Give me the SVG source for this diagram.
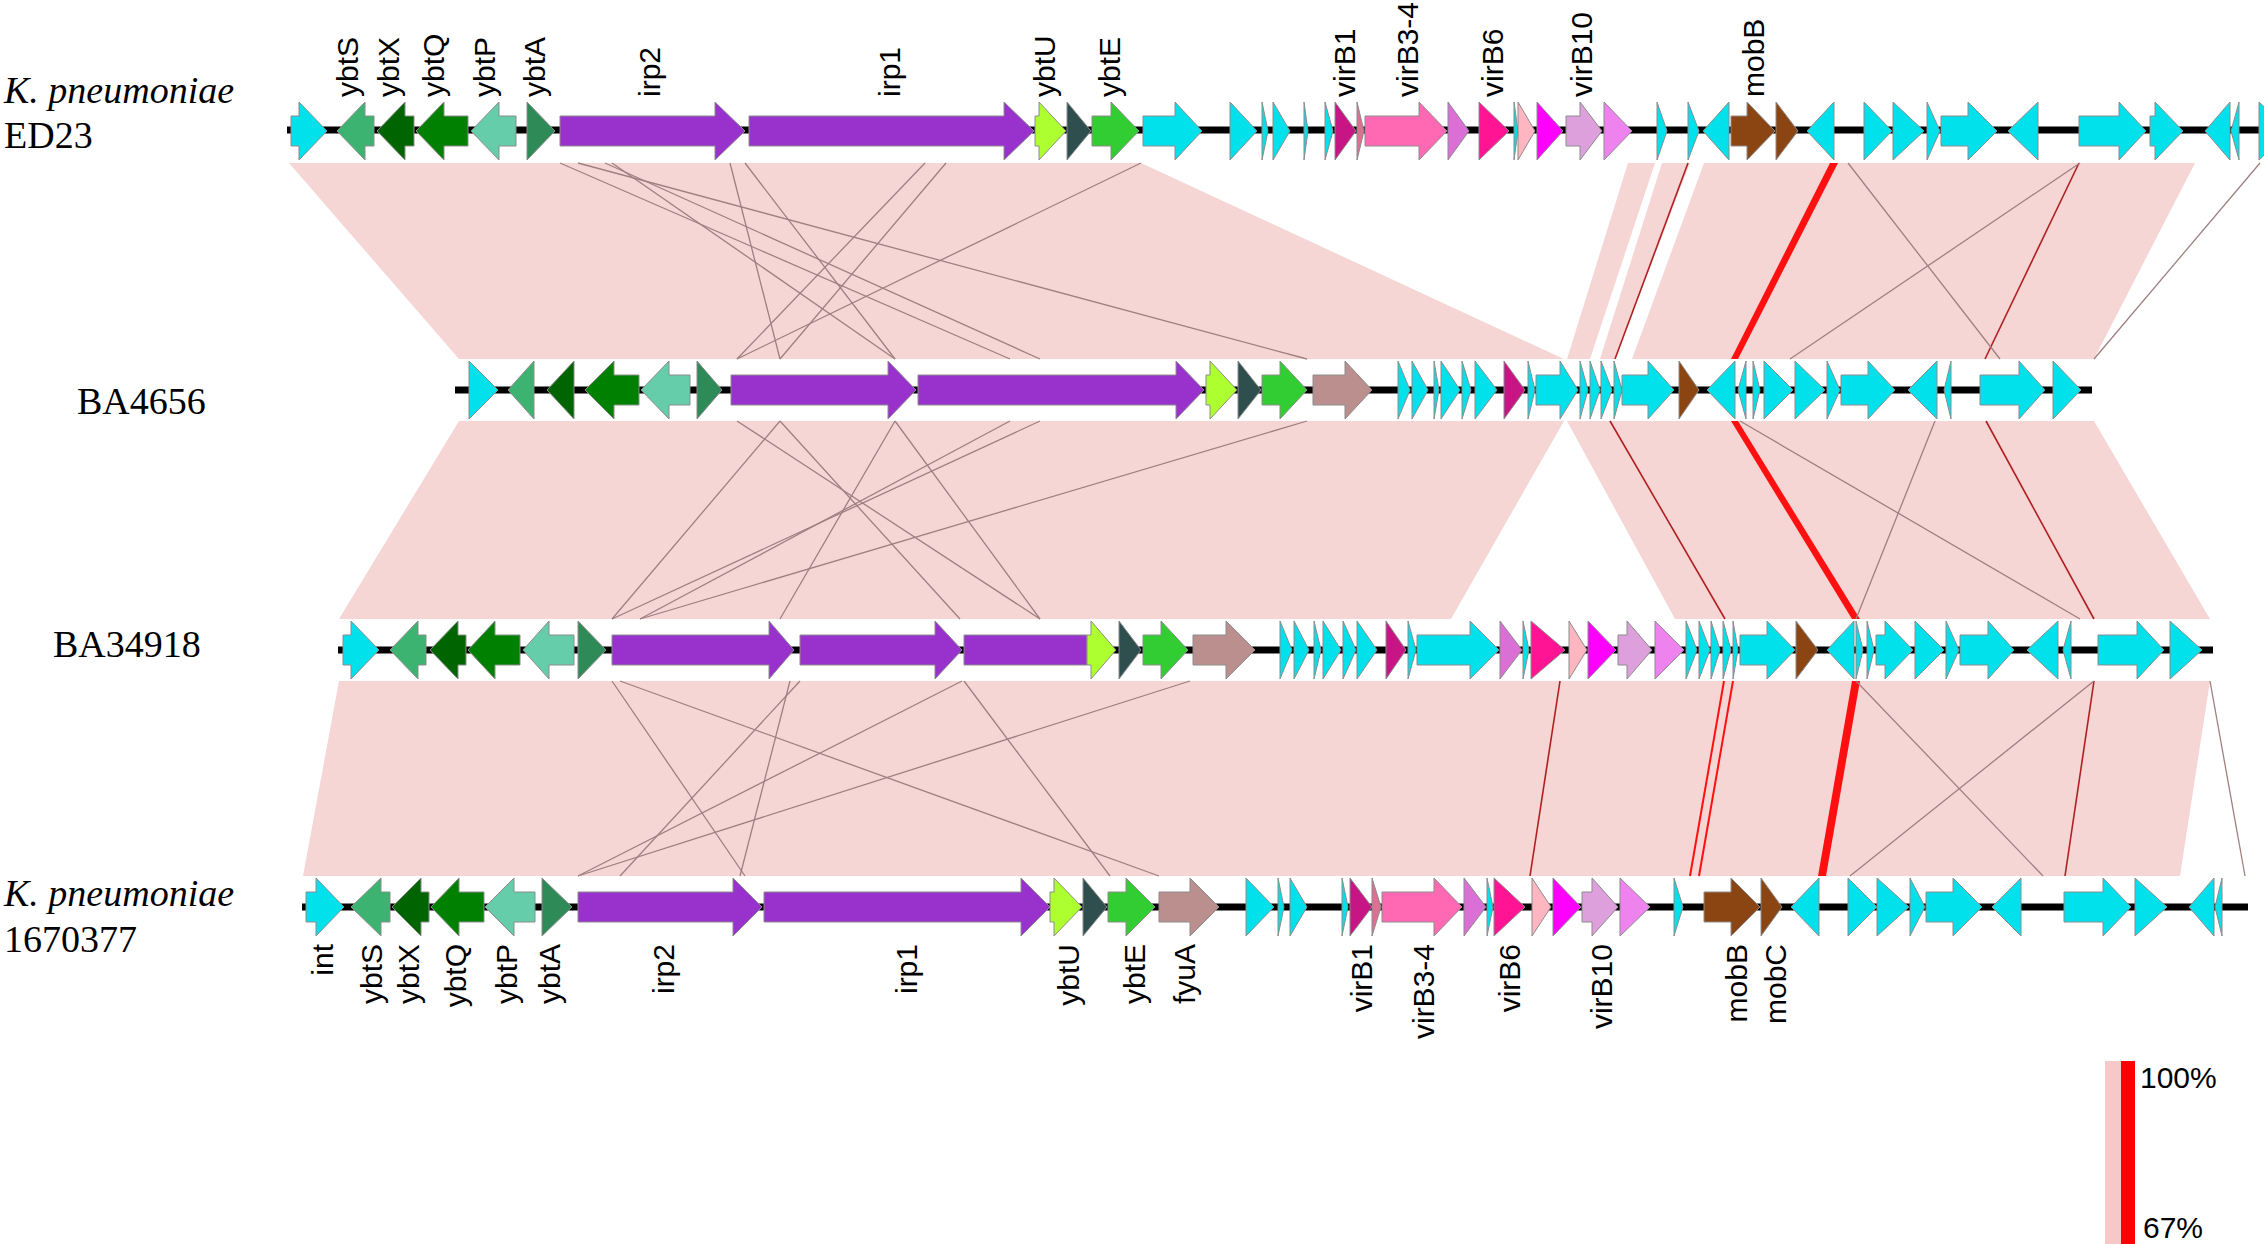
<svg xmlns="http://www.w3.org/2000/svg" width="2264" height="1244" viewBox="0 0 2264 1244">
<style>
.bb{stroke:#000;stroke-width:7}
polygon.g{stroke:#8c8c8c;stroke-width:1}
.c{fill:#00E1EC}.s{fill:#3CB371}.x{fill:#006400}.q{fill:#008000}.p{fill:#66CDAA}.a{fill:#2E8B57}
.i{fill:#9932CC}.u{fill:#ADFF2F}.d{fill:#2F4F4F}.e{fill:#32CD32}.f{fill:#BC8F8F}
.v1{fill:#C71585}.pv{fill:#DB7093}.v3{fill:#FF69B4}.or{fill:#DA70D6}.v6{fill:#FF1493}.lp{fill:#FFB6C1}
.mg{fill:#FF00FF}.pl{fill:#DDA0DD}.vi{fill:#EE82EE}.br{fill:#8B4513}
.lbl{font-family:"Liberation Sans",Arial,sans-serif;font-size:30px;fill:#000}
.sp{font-family:"Liberation Serif","Times New Roman",serif;font-size:38px;fill:#000}
.hit{fill:#F6D5D5}
.ln{stroke:#9e8080;stroke-width:1.3;fill:none}
.dr{stroke:#b02020;stroke-width:1.6;fill:none}
.rl{stroke:#FF1010;stroke-width:2;fill:none}
.rd{fill:#FF1010}
</style>

<g id="connectors">
<g id="cmp1">
<polygon class="hit" points="289,163 1141,163 1564,359 459,359"/>
<polygon class="hit" points="1628,163 1655,163 1590,359 1567,359"/>
<polygon class="hit" points="1662,163 1690,163 1615,359 1600,359"/>
<polygon class="hit" points="1704,163 2195,163 2094,359 1632,359"/>
<polygon class="rd" points="1830,163 1838,163 1738,359 1731,359"/>
<line class="dr" x1="1688" y1="163" x2="1615" y2="359"/>
<line class="dr" x1="2079" y1="163" x2="1985" y2="359"/>
<line class="ln" x1="1848" y1="163" x2="2000" y2="359"/>
<line class="ln" x1="2080" y1="163" x2="1790" y2="359"/>
<line class="ln" x1="2260" y1="163" x2="2094" y2="359"/>
<line class="ln" x1="560" y1="163" x2="1010" y2="359"/>
<line class="ln" x1="578" y1="163" x2="1307" y2="359"/>
<line class="ln" x1="605" y1="163" x2="1040" y2="359"/>
<line class="ln" x1="612" y1="163" x2="895" y2="359"/>
<line class="ln" x1="730" y1="163" x2="780" y2="359"/>
<line class="ln" x1="745" y1="163" x2="895" y2="359"/>
<line class="ln" x1="925" y1="163" x2="737" y2="359"/>
<line class="ln" x1="946" y1="163" x2="780" y2="359"/>
<line class="ln" x1="1141" y1="163" x2="737" y2="359"/>
</g>
<g id="cmp2">
<polygon class="hit" points="459,421 1564,421 1451,619 339,619"/>
<polygon class="hit" points="1567,421 2094,421 2210,619 1675,619"/>
<polygon class="rd" points="1731,421 1738,421 1860,619 1852,619"/>
<line class="dr" x1="1610" y1="421" x2="1725" y2="619"/>
<line class="dr" x1="1986" y1="421" x2="2094" y2="619"/>
<line class="ln" x1="1740" y1="421" x2="2080" y2="619"/>
<line class="ln" x1="1935" y1="421" x2="1856" y2="619"/>
<line class="ln" x1="780" y1="421" x2="612" y2="619"/>
<line class="ln" x1="780" y1="421" x2="960" y2="619"/>
<line class="ln" x1="895" y1="421" x2="780" y2="619"/>
<line class="ln" x1="895" y1="421" x2="1040" y2="619"/>
<line class="ln" x1="737" y1="421" x2="1040" y2="619"/>
<line class="ln" x1="1010" y1="421" x2="640" y2="619"/>
<line class="ln" x1="1040" y1="421" x2="612" y2="619"/>
<line class="ln" x1="1307" y1="421" x2="640" y2="619"/>
</g>
<g id="cmp3">
<polygon class="hit" points="339,681 2210,681 2180,876 303,876"/>
<line class="rl" x1="1724" y1="681" x2="1690" y2="876"/>
<line class="rl" x1="1733" y1="681" x2="1699" y2="876"/>
<polygon class="rd" points="1852,681 1860,681 1826,876 1818,876"/>
<line class="dr" x1="1560" y1="681" x2="1530" y2="876"/>
<line class="dr" x1="2094" y1="681" x2="2065" y2="876"/>
<line class="ln" x1="1856" y1="681" x2="2043" y2="876"/>
<line class="ln" x1="2094" y1="681" x2="1850" y2="876"/>
<line class="ln" x1="2210" y1="681" x2="2245" y2="876"/>
<line class="ln" x1="612" y1="681" x2="745" y2="876"/>
<line class="ln" x1="620" y1="681" x2="1159" y2="876"/>
<line class="ln" x1="800" y1="681" x2="620" y2="876"/>
<line class="ln" x1="962" y1="681" x2="578" y2="876"/>
<line class="ln" x1="790" y1="681" x2="740" y2="876"/>
<line class="ln" x1="1190" y1="681" x2="578" y2="876"/>
<line class="ln" x1="964" y1="681" x2="1110" y2="876"/>
</g>
</g>

<g id="row-ED23">
<text class="sp" x="4" y="103" font-style="italic">K. pneumoniae</text>
<text class="sp" x="4" y="148">ED23</text>
<line class="bb" x1="287" y1="130" x2="2264" y2="130"/>
<polygon class="g c" points="291,116 299,116 299,102 327,131 299,160 299,146 291,146"/>
<polygon class="g s" points="337,131 365,102 365,116 374,116 374,146 365,146 365,160"/>
<polygon class="g x" points="377,131 405,102 405,116 414,116 414,146 405,146 405,160"/>
<polygon class="g q" points="416,131 444,102 444,116 468,116 468,146 444,146 444,160"/>
<polygon class="g p" points="471,131 499,102 499,116 516,116 516,146 499,146 499,160"/>
<polygon class="g a" points="527,102 555,131 527,160"/>
<polygon class="g i" points="560,116 715,116 715,102 745,131 715,160 715,146 560,146"/>
<polygon class="g i" points="749,116 1004,116 1004,102 1034,131 1004,160 1004,146 749,146"/>
<polygon class="g u" points="1035,116 1039,116 1039,102 1066,131 1039,160 1039,146 1035,146"/>
<polygon class="g d" points="1067,102 1091,131 1067,160"/>
<polygon class="g e" points="1092,116 1111,116 1111,102 1139,131 1111,160 1111,146 1092,146"/>
<polygon class="g c" points="1143,116 1175,116 1175,102 1202,131 1175,160 1175,146 1143,146"/>
<polygon class="g c" points="1230,102 1257,131 1230,160"/>
<polygon class="g c" points="1262,102 1268,131 1262,160"/>
<polygon class="g c" points="1273,102 1290,131 1273,160"/>
<polygon class="g c" points="1304,102 1308,131 1304,160"/>
<polygon class="g c" points="1325,102 1333,131 1325,160"/>
<polygon class="g v1" points="1335,102 1356,131 1335,160"/>
<polygon class="g pv" points="1357,102 1364,131 1357,160"/>
<polygon class="g v3" points="1365,116 1419,116 1419,102 1447,131 1419,160 1419,146 1365,146"/>
<polygon class="g or" points="1448,102 1469,131 1448,160"/>
<polygon class="g v6" points="1479,102 1509,131 1479,160"/>
<polygon class="g c" points="1514,102 1518,131 1514,160"/>
<polygon class="g lp" points="1518,102 1535,131 1518,160"/>
<polygon class="g mg" points="1537,102 1563,131 1537,160"/>
<polygon class="g pl" points="1566,116 1580,116 1580,102 1602,131 1580,160 1580,146 1566,146"/>
<polygon class="g vi" points="1604,102 1632,131 1604,160"/>
<polygon class="g c" points="1657,102 1667,131 1657,160"/>
<polygon class="g c" points="1688,102 1699,131 1688,160"/>
<polygon class="g c" points="1729,102 1703,131 1729,160"/>
<polygon class="g br" points="1731,116 1747,116 1747,102 1775,131 1747,160 1747,146 1731,146"/>
<polygon class="g br" points="1776,102 1798,131 1776,160"/>
<polygon class="g c" points="1834,102 1807,131 1834,160"/>
<polygon class="g c" points="1864,102 1892,131 1864,160"/>
<polygon class="g c" points="1893,102 1924,131 1893,160"/>
<polygon class="g c" points="1927,102 1940,131 1927,160"/>
<polygon class="g c" points="1941,116 1968,116 1968,102 1997,131 1968,160 1968,146 1941,146"/>
<polygon class="g c" points="2038,102 2008,131 2038,160"/>
<polygon class="g c" points="2079,116 2119,116 2119,102 2146,131 2119,160 2119,146 2079,146"/>
<polygon class="g c" points="2150,116 2155,116 2155,102 2183,131 2155,160 2155,146 2150,146"/>
<polygon class="g c" points="2230,102 2205,131 2230,160"/>
<polygon class="g c" points="2239,102 2231,131 2239,160"/>
<polygon class="g c" points="2259,102 2290,131 2259,160"/>
<g class="lbl">
<text transform="translate(358,97) rotate(-90)">ybtS</text>
<text transform="translate(399,97) rotate(-90)">ybtX</text>
<text transform="translate(444,97) rotate(-90)">ybtQ</text>
<text transform="translate(495,97) rotate(-90)">ybtP</text>
<text transform="translate(545,97) rotate(-90)">ybtA</text>
<text transform="translate(660,97) rotate(-90)">irp2</text>
<text transform="translate(900,97) rotate(-90)">irp1</text>
<text transform="translate(1055,97) rotate(-90)">ybtU</text>
<text transform="translate(1120,97) rotate(-90)">ybtE</text>
<text transform="translate(1355,97) rotate(-90)">virB1</text>
<text transform="translate(1418,97) rotate(-90)">virB3-4</text>
<text transform="translate(1503,97) rotate(-90)">virB6</text>
<text transform="translate(1592,97) rotate(-90)">virB10</text>
<text transform="translate(1764,97) rotate(-90)">mobB</text>
</g>
</g>

<g id="row-BA4656">
<text class="sp" x="77" y="414">BA4656</text>
<line class="bb" x1="455" y1="390" x2="2092" y2="390"/>
<polygon class="g c" points="469,361 498,390 469,419"/>
<polygon class="g s" points="534,361 508,390 534,419"/>
<polygon class="g x" points="574,361 547,390 574,419"/>
<polygon class="g q" points="585,390 614,361 614,375 639,375 639,405 614,405 614,419"/>
<polygon class="g p" points="641,390 669,361 669,375 690,375 690,405 669,405 669,419"/>
<polygon class="g a" points="697,361 722,390 697,419"/>
<polygon class="g i" points="731,375 888,375 888,361 916,390 888,419 888,405 731,405"/>
<polygon class="g i" points="918,375 1176,375 1176,361 1204,390 1176,419 1176,405 918,405"/>
<polygon class="g u" points="1206,375 1210,375 1210,361 1237,390 1210,419 1210,405 1206,405"/>
<polygon class="g d" points="1238,361 1261,390 1238,419"/>
<polygon class="g e" points="1262,375 1280,375 1280,361 1307,390 1280,419 1280,405 1262,405"/>
<polygon class="g f" points="1313,375 1345,375 1345,361 1372,390 1345,419 1345,405 1313,405"/>
<polygon class="g c" points="1398,361 1410,390 1398,419"/>
<polygon class="g c" points="1412,361 1428,390 1412,419"/>
<polygon class="g c" points="1434,361 1439,390 1434,419"/>
<polygon class="g c" points="1441,361 1460,390 1441,419"/>
<polygon class="g c" points="1462,361 1471,390 1462,419"/>
<polygon class="g c" points="1475,361 1497,390 1475,419"/>
<polygon class="g v1" points="1504,361 1525,390 1504,419"/>
<polygon class="g c" points="1528,361 1535,390 1528,419"/>
<polygon class="g c" points="1536,375 1560,375 1560,361 1578,390 1560,419 1560,405 1536,405"/>
<polygon class="g c" points="1580,361 1588,390 1580,419"/>
<polygon class="g c" points="1590,361 1600,390 1590,419"/>
<polygon class="g c" points="1601,361 1612,390 1601,419"/>
<polygon class="g c" points="1614,361 1622,390 1614,419"/>
<polygon class="g c" points="1622,375 1648,375 1648,361 1674,390 1648,419 1648,405 1622,405"/>
<polygon class="g br" points="1679,361 1699,390 1679,419"/>
<polygon class="g c" points="1735,361 1707,390 1735,419"/>
<polygon class="g c" points="1746,361 1738,390 1746,419"/>
<polygon class="g c" points="1753,361 1760,390 1753,419"/>
<polygon class="g c" points="1764,361 1793,390 1764,419"/>
<polygon class="g c" points="1795,361 1825,390 1795,419"/>
<polygon class="g c" points="1827,361 1840,390 1827,419"/>
<polygon class="g c" points="1841,375 1868,375 1868,361 1895,390 1868,419 1868,405 1841,405"/>
<polygon class="g c" points="1937,361 1908,390 1937,419"/>
<polygon class="g c" points="1951,361 1944,390 1951,419"/>
<polygon class="g c" points="1980,375 2019,375 2019,361 2045,390 2019,419 2019,405 1980,405"/>
<polygon class="g c" points="2053,361 2081,390 2053,419"/>
</g>

<g id="row-BA34918">
<text class="sp" x="53" y="657">BA34918</text>
<line class="bb" x1="338" y1="650" x2="2213" y2="650"/>
<polygon class="g c" points="343,635 351,635 351,621 379,650 351,679 351,665 343,665"/>
<polygon class="g s" points="390,650 418,621 418,635 426,635 426,665 418,665 418,679"/>
<polygon class="g x" points="430,650 458,621 458,635 466,635 466,665 458,665 458,679"/>
<polygon class="g q" points="468,650 495,621 495,635 520,635 520,665 495,665 495,679"/>
<polygon class="g p" points="523,650 549,621 549,635 574,635 574,665 549,665 549,679"/>
<polygon class="g a" points="578,621 606,650 578,679"/>
<polygon class="g i" points="612,635 769,635 769,621 794,650 769,679 769,665 612,665"/>
<polygon class="g i" points="800,635 935,635 935,621 962,650 935,679 935,665 800,665"/>
<polygon class="g i" points="964,635 1087,635 1087,665 964,665"/>
<polygon class="g u" points="1087,635 1091,635 1091,621 1116,650 1091,679 1091,665 1087,665"/>
<polygon class="g d" points="1119,621 1141,650 1119,679"/>
<polygon class="g e" points="1143,635 1161,635 1161,621 1188,650 1161,679 1161,665 1143,665"/>
<polygon class="g f" points="1193,635 1226,635 1226,621 1255,650 1226,679 1226,665 1193,665"/>
<polygon class="g c" points="1280,621 1292,650 1280,679"/>
<polygon class="g c" points="1294,621 1309,650 1294,679"/>
<polygon class="g c" points="1314,621 1321,650 1314,679"/>
<polygon class="g c" points="1323,621 1341,650 1323,679"/>
<polygon class="g c" points="1343,621 1356,650 1343,679"/>
<polygon class="g c" points="1357,621 1377,650 1357,679"/>
<polygon class="g v1" points="1386,621 1406,650 1386,679"/>
<polygon class="g c" points="1408,621 1416,650 1408,679"/>
<polygon class="g c" points="1417,635 1470,635 1470,621 1499,650 1470,679 1470,665 1417,665"/>
<polygon class="g or" points="1500,621 1522,650 1500,679"/>
<polygon class="g c" points="1523,621 1529,650 1523,679"/>
<polygon class="g v6" points="1531,621 1565,650 1531,679"/>
<polygon class="g lp" points="1569,621 1587,650 1569,679"/>
<polygon class="g mg" points="1588,621 1616,650 1588,679"/>
<polygon class="g pl" points="1618,635 1627,635 1627,621 1652,650 1627,679 1627,665 1618,665"/>
<polygon class="g vi" points="1655,621 1684,650 1655,679"/>
<polygon class="g c" points="1686,621 1697,650 1686,679"/>
<polygon class="g c" points="1699,621 1710,650 1699,679"/>
<polygon class="g c" points="1711,621 1720,650 1711,679"/>
<polygon class="g c" points="1723,621 1731,650 1723,679"/>
<polygon class="g c" points="1733,621 1738,650 1733,679"/>
<polygon class="g c" points="1740,635 1767,635 1767,621 1795,650 1767,679 1767,665 1740,665"/>
<polygon class="g br" points="1796,621 1818,650 1796,679"/>
<polygon class="g c" points="1854,621 1827,650 1854,679"/>
<polygon class="g c" points="1856,621 1863,650 1856,679"/>
<polygon class="g c" points="1867,621 1874,650 1867,679"/>
<polygon class="g c" points="1876,635 1885,635 1885,621 1913,650 1885,679 1885,665 1876,665"/>
<polygon class="g c" points="1915,621 1944,650 1915,679"/>
<polygon class="g c" points="1946,621 1959,650 1946,679"/>
<polygon class="g c" points="1960,635 1988,635 1988,621 2014,650 1988,679 1988,665 1960,665"/>
<polygon class="g c" points="2058,621 2027,650 2058,679"/>
<polygon class="g c" points="2071,621 2063,650 2071,679"/>
<polygon class="g c" points="2098,635 2137,635 2137,621 2164,650 2137,679 2137,665 2098,665"/>
<polygon class="g c" points="2170,621 2202,650 2170,679"/>
</g>

<g id="row-1670377">
<text class="sp" x="4" y="906" font-style="italic">K. pneumoniae</text>
<text class="sp" x="4" y="952">1670377</text>
<line class="bb" x1="302" y1="907" x2="2248" y2="907"/>
<polygon class="g c" points="306,892 316,892 316,878 344,907 316,936 316,922 306,922"/>
<polygon class="g s" points="351,907 381,878 381,892 390,892 390,922 381,922 381,936"/>
<polygon class="g x" points="392,907 421,878 421,892 429,892 429,922 421,922 421,936"/>
<polygon class="g q" points="431,907 459,878 459,892 484,892 484,922 459,922 459,936"/>
<polygon class="g p" points="485,907 514,878 514,892 535,892 535,922 514,922 514,936"/>
<polygon class="g a" points="542,878 572,907 542,936"/>
<polygon class="g i" points="578,892 733,892 733,878 762,907 733,936 733,922 578,922"/>
<polygon class="g i" points="764,892 1021,892 1021,878 1050,907 1021,936 1021,922 764,922"/>
<polygon class="g u" points="1050,892 1054,892 1054,878 1082,907 1054,936 1054,922 1050,922"/>
<polygon class="g d" points="1083,878 1107,907 1083,936"/>
<polygon class="g e" points="1108,892 1126,892 1126,878 1155,907 1126,936 1126,922 1108,922"/>
<polygon class="g f" points="1159,892 1190,892 1190,878 1219,907 1190,936 1190,922 1159,922"/>
<polygon class="g c" points="1246,878 1274,907 1246,936"/>
<polygon class="g c" points="1278,878 1284,907 1278,936"/>
<polygon class="g c" points="1290,878 1307,907 1290,936"/>
<polygon class="g c" points="1342,878 1348,907 1342,936"/>
<polygon class="g v1" points="1350,878 1372,907 1350,936"/>
<polygon class="g pv" points="1372,878 1381,907 1372,936"/>
<polygon class="g v3" points="1382,892 1434,892 1434,878 1462,907 1434,936 1434,922 1382,922"/>
<polygon class="g or" points="1464,878 1486,907 1464,936"/>
<polygon class="g c" points="1487,878 1493,907 1487,936"/>
<polygon class="g v6" points="1494,878 1525,907 1494,936"/>
<polygon class="g lp" points="1532,878 1551,907 1532,936"/>
<polygon class="g mg" points="1553,878 1581,907 1553,936"/>
<polygon class="g pl" points="1582,892 1592,892 1592,878 1618,907 1592,936 1592,922 1582,922"/>
<polygon class="g vi" points="1620,878 1650,907 1620,936"/>
<polygon class="g c" points="1674,878 1683,907 1674,936"/>
<polygon class="g br" points="1704,892 1731,892 1731,878 1760,907 1731,936 1731,922 1704,922"/>
<polygon class="g br" points="1761,878 1782,907 1761,936"/>
<polygon class="g c" points="1819,878 1791,907 1819,936"/>
<polygon class="g c" points="1848,878 1877,907 1848,936"/>
<polygon class="g c" points="1877,878 1909,907 1877,936"/>
<polygon class="g c" points="1910,878 1925,907 1910,936"/>
<polygon class="g c" points="1926,892 1953,892 1953,878 1982,907 1953,936 1953,922 1926,922"/>
<polygon class="g c" points="2021,878 1992,907 2021,936"/>
<polygon class="g c" points="2064,892 2103,892 2103,878 2131,907 2103,936 2103,922 2064,922"/>
<polygon class="g c" points="2135,878 2167,907 2135,936"/>
<polygon class="g c" points="2214,878 2189,907 2214,936"/>
<polygon class="g c" points="2222,878 2215,907 2222,936"/>
<g class="lbl" text-anchor="end">
<text transform="translate(333,944) rotate(-90)">int</text>
<text transform="translate(382,944) rotate(-90)">ybtS</text>
<text transform="translate(419,944) rotate(-90)">ybtX</text>
<text transform="translate(466,944) rotate(-90)">ybtQ</text>
<text transform="translate(517,944) rotate(-90)">ybtP</text>
<text transform="translate(560,944) rotate(-90)">ybtA</text>
<text transform="translate(674,944) rotate(-90)">irp2</text>
<text transform="translate(917,944) rotate(-90)">irp1</text>
<text transform="translate(1079,944) rotate(-90)">ybtU</text>
<text transform="translate(1145,944) rotate(-90)">ybtE</text>
<text transform="translate(1195,944) rotate(-90)">fyuA</text>
<text transform="translate(1372,944) rotate(-90)">virB1</text>
<text transform="translate(1434,944) rotate(-90)">virB3-4</text>
<text transform="translate(1520,944) rotate(-90)">virB6</text>
<text transform="translate(1612,944) rotate(-90)">virB10</text>
<text transform="translate(1747,944) rotate(-90)">mobB</text>
<text transform="translate(1786,944) rotate(-90)">mobC</text>
</g>
</g>

<g id="legend">
<rect x="2105" y="1061" width="16" height="183" fill="#F6C8C8"/>
<rect x="2121" y="1061" width="14" height="183" fill="#FF0000"/>
<text class="lbl" x="2140" y="1088">100%</text>
<text class="lbl" x="2143" y="1238">67%</text>
</g>
</svg>
